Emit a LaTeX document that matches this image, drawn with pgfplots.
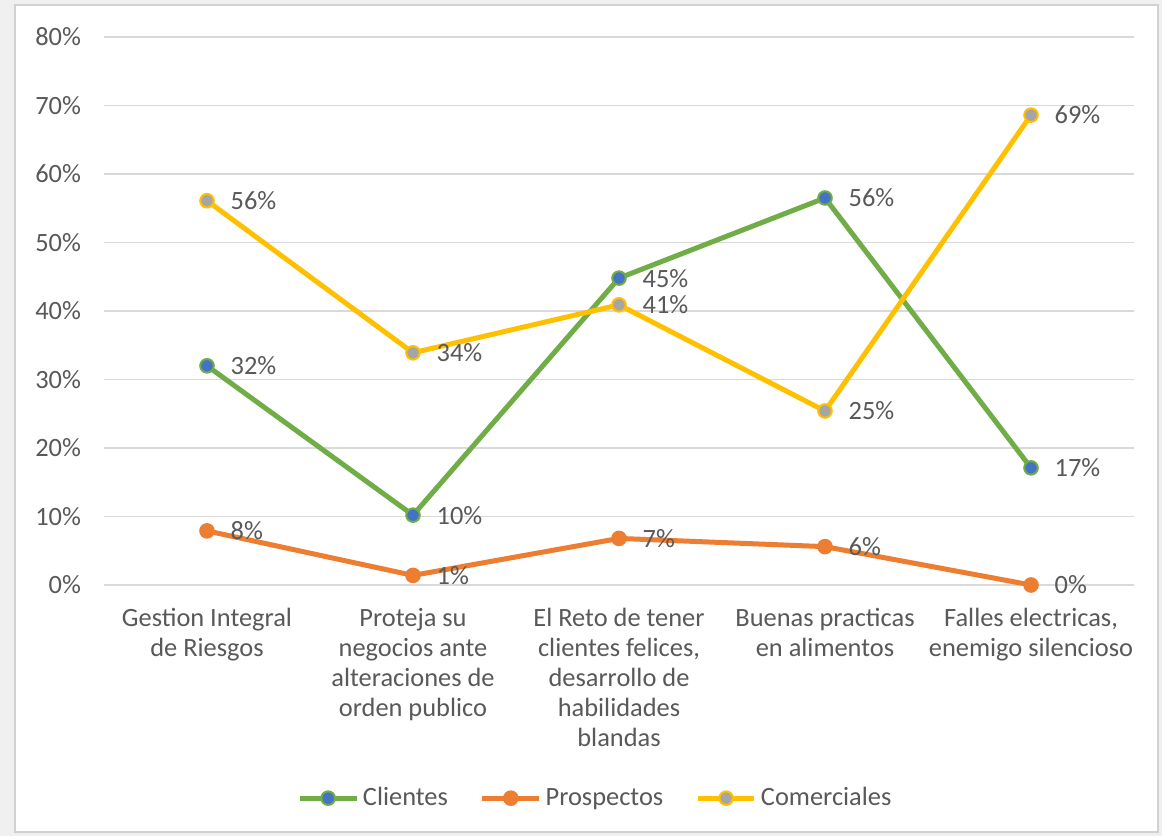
\documentclass[border=0pt]{standalone}
\usepackage{pgfplots}
\pgfplotsset{compat=1.18}
\usepackage{fontspec}
\setmainfont{Carlito}
\definecolor{txt}{HTML}{595959}
\definecolor{gridc}{HTML}{D9D9D9}
\definecolor{cgreen}{HTML}{70AD47}
\definecolor{cblue}{HTML}{4472C4}
\definecolor{corange}{HTML}{ED7D31}
\definecolor{cyellow}{HTML}{FFC000}
\definecolor{cgray}{HTML}{A5A5A5}
\begin{document}
\begin{tikzpicture}
\path[use as bounding box, fill=black!6] (-52bp,-125.5bp) rectangle (529bp,292.5bp);
\draw[fill=white, draw=black!18, line width=1.2bp] (-44.5bp,-123.5bp) rectangle (527bp,290bp);
\begin{axis}[
  at={(0,0)}, anchor=south west,
  scale only axis, width=515bp, height=274bp,
  xmin=-0.5, xmax=4.5, ymin=0, ymax=80,
  axis line style={draw=none},
  tick style={draw=none},
  xmajorgrids=false,
  ymajorgrids=true, grid style={draw=gridc, line width=0.8bp},
  ytick={0,10,...,80},
  yticklabel={\pgfmathprintnumber{\tick}\%},
  /pgf/number format/assume math mode=true,
  xtick={0,1,2,3,4},
  xticklabels={{Gestion Integral\\de Riesgos},{Proteja su\\negocios ante\\alteraciones de\\orden publico},{El Reto de tener\\clientes felices,\\desarrollo de\\habilidades\\blandas},{Buenas practicas\\en alimentos},{Falles electricas,\\enemigo silencioso}},
  xticklabel style={align=center, yshift=-8bp, font=\fontsize{13.2bp}{15bp}\selectfont, text=txt},
  yticklabel style={font=\fontsize{13.2bp}{15bp}\selectfont, text=txt, xshift=-8bp},
  legend columns=3,
  legend style={at={(0.478,-0.389)}, anchor=center, draw=none, fill=none,
    font=\fontsize{13.2bp}{15bp}\selectfont, text=txt,
    /tikz/every even column/.append style={column sep=14bp}},
  legend image code/.code={\draw[mark repeat=2,mark phase=2,#1] plot coordinates {(0cm,0cm) (0.5cm,0cm) (1cm,0cm)};},
  nodes near coords,
  point meta=explicit symbolic,
  every node near coord/.append style={anchor=west, xshift=8bp, yshift=0bp, font=\fontsize{13.2bp}{15bp}\selectfont, text=txt},
]
\addplot[cgreen, line width=2.5bp, mark=*, mark size=3.4bp, mark options={fill=cblue, draw=cgreen, line width=1bp}]
  coordinates {(0,32) [32\%] (1,10.2) [10\%] (2,44.8) [45\%] (3,56.5) [56\%] (4,17.1) [17\%]};
\addlegendentry{Clientes}
\addplot[corange, line width=2.5bp, mark=*, mark size=3.4bp, mark options={fill=corange, draw=corange, line width=1bp}]
  coordinates {(0,7.9) [8\%] (1,1.4) [1\%] (2,6.8) [7\%] (3,5.6) [6\%] (4,0) [0\%]};
\addlegendentry{Prospectos}
\addplot[cyellow, line width=2.5bp, mark=*, mark size=3.4bp, mark options={fill=cgray, draw=cyellow, line width=1bp}]
  coordinates {(0,56.1) [56\%] (1,33.9) [34\%] (2,40.9) [41\%] (3,25.4) [25\%] (4,68.6) [69\%]};
\addlegendentry{Comerciales}
\end{axis}
\end{tikzpicture}
\end{document}
